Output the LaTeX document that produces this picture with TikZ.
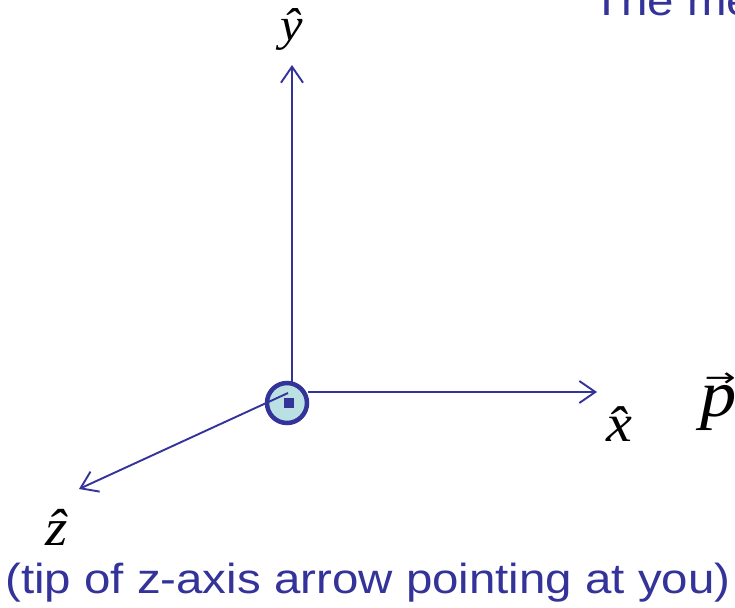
\documentclass[tikz,border=0pt]{standalone}
\usepackage{fontspec}
\setmainfont{Liberation Sans}
\newfontfamily\serfont{Liberation Serif}
\newfontfamily\arrfont{DejaVu Sans}
\usetikzlibrary{arrows.meta}
\definecolor{ppblue}{RGB}{51,51,153}
\definecolor{ppfill}{RGB}{187,224,228}
\tikzset{
  axis/.style={draw=ppblue, line width=1.9bp, -{Straight Barb[length=16bp,width=22bp]}},
  txt/.style={text=ppblue, inner sep=0pt, font=\fontsize{42bp}{48bp}\selectfont},
  lbl/.style={text=black, inner sep=0pt},
}
\begin{document}
\begin{tikzpicture}[x=1bp,y=-1bp]
\useasboundingbox (0,0) rectangle (735,608);
\fill[white] (0,0) rectangle (735,608);
% coordinates
\coordinate (ytop) at (292,382);
\coordinate (xstart) at (308,392);
\coordinate (zstart) at (288,393);
\coordinate (ytip) at (292,65);
\coordinate (xtip) at (597,392);
\coordinate (ztip) at (79,489);
% axes
\draw[axis] (ytop) -- (ytip);
\draw[axis] (xstart) -- (xtip);
\node[circle, draw=ppblue, fill=ppfill, line width=4.5bp, minimum size=40bp, inner sep=0pt] (C) at (287,403) {};
\draw[axis] (zstart) -- (ztip);
\node[fill=ppblue, minimum size=10bp, inner sep=0pt] (sq) at (289,403) {};
% labels
\node[lbl] (ly) at (292,29) {\fontsize{46bp}{50bp}\serfont\itshape\scalebox{1.1}[1]{\^{y}}};
\node[lbl] (lx) at (619,424) {\fontsize{53bp}{56bp}\serfont\itshape\scalebox{1.1}[1]{\^{x}}};
\node[lbl] (lz) at (57,527) {\fontsize{52bp}{56bp}\serfont\itshape\scalebox{1.1}[1]{\^{z}}};
\node[lbl, anchor=base west] (lp) at (700,416) {\fontsize{66bp}{70bp}\serfont\itshape\scalebox{1.1}[1]{\rlap{\hspace{4bp}\raisebox{30bp}{\fontsize{26bp}{28bp}\arrfont\upshape\scalebox{1.3}[1]{→}}}p}};
% texts
\node[txt, anchor=base west] (title) at (592,16) {\scalebox{1.13}[1]{The me}};
\node[txt, anchor=base west] (note) at (5,593) {\scalebox{1.13}[1]{(tip of z-axis arrow pointing at you)}};
\end{tikzpicture}
\end{document}
